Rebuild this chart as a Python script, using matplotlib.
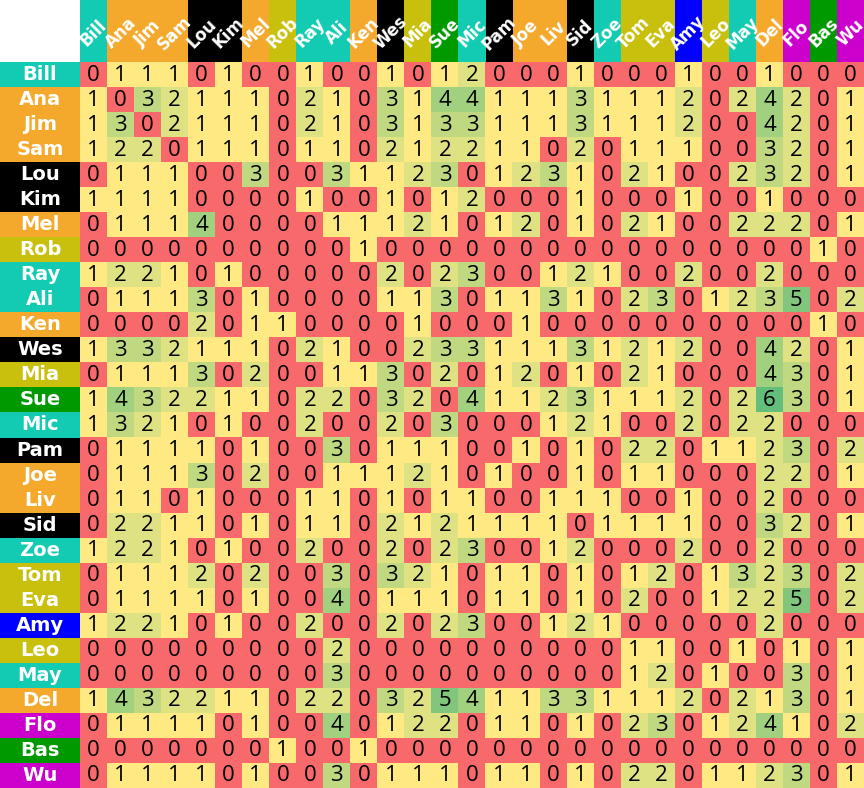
import matplotlib
matplotlib.use('Agg')
import matplotlib.pyplot as plt
from matplotlib.colors import LinearSegmentedColormap
from matplotlib.patches import Rectangle
import numpy as np

names = ["Bill", "Ana", "Jim", "Sam", "Lou", "Kim", "Mel", "Rob", "Ray", "Ali",
         "Ken", "Wes", "Mia", "Sue", "Mic", "Pam", "Joe", "Liv", "Sid", "Zoe",
         "Tom", "Eva", "Amy", "Leo", "May", "Del", "Flo", "Bas", "Wu"]

groups = ["teal", "orange", "orange", "orange", "black", "black", "orange", "olive", "teal", "teal",
          "orange", "black", "olive", "green", "teal", "black", "orange", "orange", "black", "teal",
          "olive", "olive", "blue", "olive", "teal", "orange", "magenta", "green", "magenta"]

group_colors = {"teal": "#13CBB2", "orange": "#F4A92C", "black": "#000000", "olive": "#C8C00C",
                "green": "#009A00", "blue": "#0000FF", "magenta": "#CC00CC"}

r_bill = [0,1,1,1,0,1,0,0,1,0,0,1,0, 1,2,0,0,0,1,0,0,0,1,0,0,1,0,0,0]
r_ana  = [1,0,3,2,1,1,1,0,2,1,0,3,1, 4,4,1,1,1,3,1,1,1,2,0,2,4,2,0,1]
r_jim  = [1,3,0,2,1,1,1,0,2,1,0,3,1, 3,3,1,1,1,3,1,1,1,2,0,0,4,2,0,1]
r_sam  = [1,2,2,0,1,1,1,0,1,1,0,2,1, 2,2,1,1,0,2,0,1,1,1,0,0,3,2,0,1]
r_lou  = [0,1,1,1,0,0,3,0,0,3,1,1,2, 3,0,1,2,3,1,0,2,1,0,0,2,3,2,0,1]
r_kim  = [1,1,1,1,0,0,0,0,1,0,0,1,0, 1,2,0,0,0,1,0,0,0,1,0,0,1,0,0,0]
r_mel  = [0,1,1,1,4,0,0,0,0,1,1,1,2, 1,0,1,2,0,1,0,2,1,0,0,2,2,2,0,1]
r_rob  = [0,0,0,0,0,0,0,0,0,0,1,0,0, 0,0,0,0,0,0,0,0,0,0,0,0,0,0,1,0]
r_ray  = [1,2,2,1,0,1,0,0,0,0,0,2,0, 2,3,0,0,1,2,1,0,0,2,0,0,2,0,0,0]
r_ali  = [0,1,1,1,3,0,1,0,0,0,0,1,1, 3,0,1,1,3,1,0,2,3,0,1,2,3,5,0,2]
r_ken  = [0,0,0,0,2,0,1,1,0,0,0,0,1, 0,0,0,1,0,0,0,0,0,0,0,0,0,0,1,0]
r_wes  = [1,3,3,2,1,1,1,0,2,1,0,0,2, 3,3,1,1,1,3,1,2,1,2,0,0,4,2,0,1]
r_mia  = [0,1,1,1,3,0,2,0,0,1,1,3,0, 2,0,1,2,0,1,0,2,1,0,0,0,4,3,0,1]
r_sue  = [1,4,3,2,2,1,1,0,2,2,0,3,2, 0,4,1,1,2,3,1,1,1,2,0,2,6,3,0,1]
r_mic  = [1,3,2,1,0,1,0,0,2,0,0,2,0, 3,0,0,0,1,2,1,0,0,2,0,2,2,0,0,0]
r_pam  = [0,1,1,1,1,0,1,0,0,3,0,1,1, 1,0,0,1,0,1,0,2,2,0,1,1,2,3,0,2]
r_joe  = [0,1,1,1,3,0,2,0,0,1,1,1,2, 1,0,1,0,0,1,0,1,1,0,0,0,2,2,0,1]
r_liv  = [0,1,1,0,1,0,0,0,1,1,0,1,0, 1,1,0,0,1,1,1,0,0,1,0,0,2,0,0,0]
r_sid  = [0,2,2,1,1,0,1,0,1,1,0,2,1, 2,1,1,1,1,0,1,1,1,1,0,0,3,2,0,1]
r_zoe  = [1,2,2,1,0,1,0,0,2,0,0,2,0, 2,3,0,0,1,2,0,0,0,2,0,0,2,0,0,0]
r_tom  = [0,1,1,1,2,0,2,0,0,3,0,3,2, 1,0,1,1,0,1,0,1,2,0,1,3,2,3,0,2]
r_eva  = [0,1,1,1,1,0,1,0,0,4,0,1,1, 1,0,1,1,0,1,0,2,0,0,1,2,2,5,0,2]
r_amy  = [1,2,2,1,0,1,0,0,2,0,0,2,0, 2,3,0,0,1,2,1,0,0,0,0,0,2,0,0,0]
r_leo  = [0,0,0,0,0,0,0,0,0,2,0,0,0, 0,0,0,0,0,0,0,1,1,0,0,1,0,1,0,1]
r_may  = [0,0,0,0,0,0,0,0,0,3,0,0,0, 0,0,0,0,0,0,0,1,2,0,1,0,0,3,0,1]
r_del  = [1,4,3,2,2,1,1,0,2,2,0,3,2, 5,4,1,1,3,3,1,1,1,2,0,2,1,3,0,1]
r_flo  = [0,1,1,1,1,0,1,0,0,4,0,1,2, 2,0,1,1,0,1,0,2,3,0,1,2,4,1,0,2]
r_bas  = [0,0,0,0,0,0,0,1,0,0,1,0,0, 0,0,0,0,0,0,0,0,0,0,0,0,0,0,0,0]
r_wu   = [0,1,1,1,1,0,1,0,0,3,0,1,1, 1,0,1,1,0,1,0,2,2,0,1,1,2,3,0,1]

values = [r_bill, r_ana, r_jim, r_sam, r_lou, r_kim, r_mel, r_rob, r_ray, r_ali,
          r_ken, r_wes, r_mia, r_sue, r_mic, r_pam, r_joe, r_liv, r_sid, r_zoe,
          r_tom, r_eva, r_amy, r_leo, r_may, r_del, r_flo, r_bas, r_wu]

W, H = 864, 788
left_px, top_px = 80, 62
fig = plt.figure(figsize=(W / 100, H / 100), dpi=100)
ax = fig.add_axes([left_px / W, 0, (W - left_px) / W, (H - top_px) / H])
n = len(names)
data = np.array(values)
cmap = LinearSegmentedColormap.from_list(
    'xl', [(0.0, '#F8696B'), (1 / 6, '#FFEB84'), (1.0, '#63BE7B')])
ax.imshow(data, cmap=cmap, vmin=0, vmax=6, aspect='auto',
          interpolation='nearest', extent=(0, n, n, 0))
ax.set_xlim(0, n)
ax.set_ylim(n, 0)
ax.axis('off')

cw = (W - left_px) / n
ch = (H - top_px) / n
lw = left_px / cw
hh = top_px / ch

for i in range(n):
    for j in range(n):
        ax.text(j + 0.5, i + 0.52, str(data[i, j]), ha='center', va='center',
                fontsize=16, family='Open Sans', color='black')

for i, nm in enumerate(names):
    col = group_colors[groups[i]]
    ax.add_patch(Rectangle((-lw, i), lw, 1, facecolor=col, edgecolor='none',
                           clip_on=False, antialiased=False))
    ax.text(-lw / 2, i + 0.5, nm, ha='center', va='center', fontsize=14,
            fontweight='bold', color='white', family='DejaVu Sans', clip_on=False)
    ax.add_patch(Rectangle((i, -hh), 1, hh, facecolor=col, edgecolor='none',
                           clip_on=False, antialiased=False))
    ax.text(i + 0.5, -(top_px - 33) / ch, nm, ha='center', va='center',
            fontsize=12, fontweight='bold', color='white', family='DejaVu Sans',
            rotation=45, rotation_mode='anchor', clip_on=False)

fig.savefig('out.png', dpi=100)
